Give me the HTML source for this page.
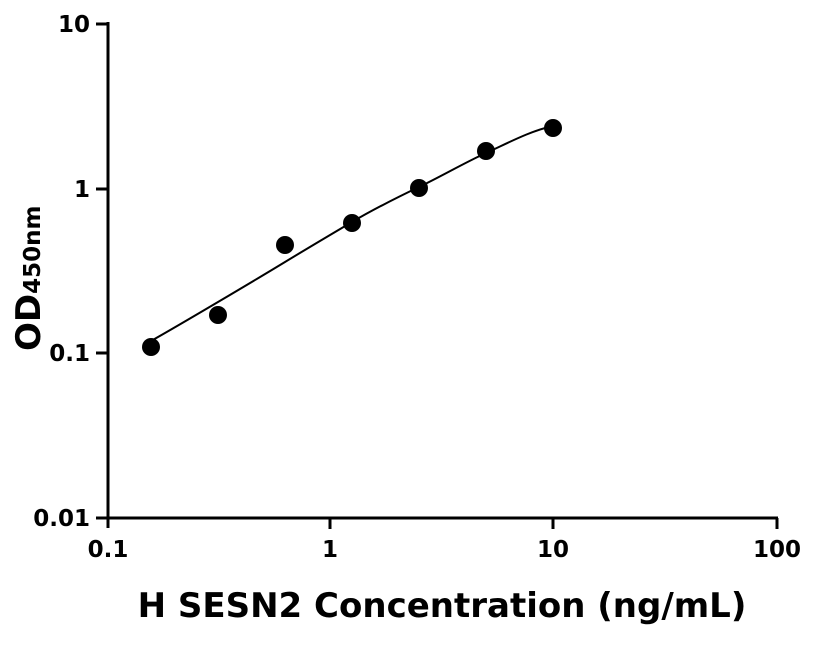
<!DOCTYPE html>
<html><head><style>
body{margin:0;background:#fff;}
text{font-family:"DejaVu Sans","Liberation Sans",sans-serif;font-weight:bold;fill:#000;}
</style></head><body>
<svg width="816" height="640" viewBox="0 0 816 640">
<g stroke="#000" stroke-width="3" fill="none">
<line x1="108" y1="22" x2="108" y2="528"/>
<line x1="106" y1="518" x2="778" y2="518"/>
<line x1="96" y1="24" x2="108" y2="24"/>
<line x1="96" y1="189" x2="108" y2="189"/>
<line x1="96" y1="353" x2="108" y2="353"/>
<line x1="96" y1="518" x2="108" y2="518"/>
<line x1="330" y1="518" x2="330" y2="529"/>
<line x1="553" y1="518" x2="553" y2="529"/>
<line x1="777" y1="518" x2="777" y2="529"/>
</g>
<g font-size="23" text-anchor="end">
<text x="90" y="32">10</text>
<text x="90" y="197">1</text>
<text x="90" y="361">0.1</text>
<text x="90" y="526">0.01</text>
</g>
<g font-size="23" text-anchor="middle">
<text x="108" y="557">0.1</text>
<text x="330" y="557">1</text>
<text x="553" y="557">10</text>
<text x="777" y="557">100</text>
</g>
<text x="442" y="617" font-size="34" text-anchor="middle">H SESN2 Concentration (ng/mL)</text>
<text transform="translate(40,351) rotate(-90)" font-size="34">OD<tspan font-size="23">450nm</tspan></text>
<path d="M151,341 C174,328 196,315 218,302 S262,276 285,262 S330,235 352,222 S396,198 419,187 S464,163 486,153 S530,131 553,126" stroke="#000" stroke-width="2" fill="none"/>
<g fill="#000">
<circle cx="151" cy="347" r="9"/>
<circle cx="218" cy="315" r="9"/>
<circle cx="285" cy="245" r="9"/>
<circle cx="352" cy="223" r="9"/>
<circle cx="419" cy="188" r="9"/>
<circle cx="486" cy="151" r="9"/>
<circle cx="553" cy="128" r="9"/>
</g>
</svg>
</body></html>
